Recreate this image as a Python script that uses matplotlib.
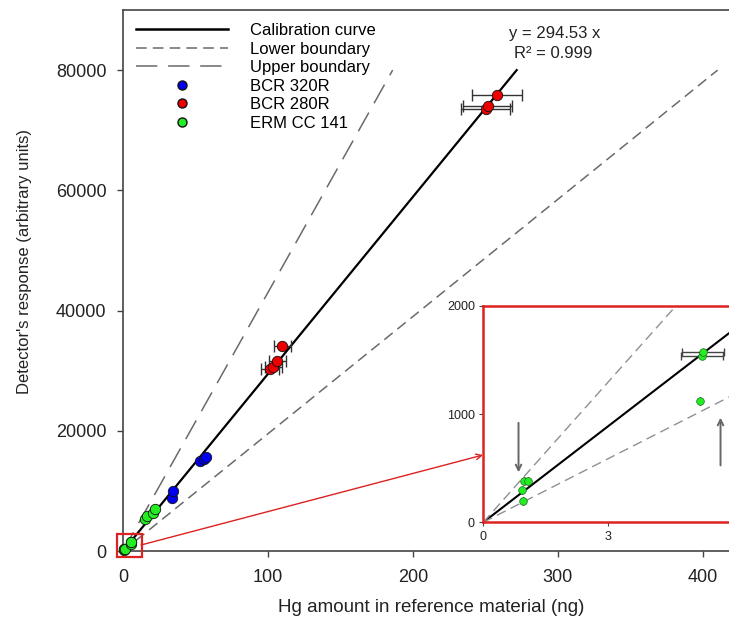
import matplotlib.pyplot as plt
import numpy as np
from matplotlib.lines import Line2D
from matplotlib.patches import Rectangle

plt.rcParams["font.family"] = ["Liberation Sans", "DejaVu Sans"]

# Fitted calibration slope and acceptance boundaries (response per ng)
cal_slope = 294.53
upper_slope = 430.0
lower_slope = 195.0
y_line_max = 80000

# Reference materials: Hg amount (ng), detector response, x uncertainty (ng)
bcr320_x = [34.0, 34.8, 53.2, 55.8, 57.0]
bcr320_y = [8900, 10000, 14900, 15300, 15600]

bcr280_x = [101.4, 103.7, 106.4, 109.9, 250.3, 251.7, 258.0]
bcr280_y = [30200, 30550, 31600, 34100, 73600, 74000, 75800]
bcr280_err = [6, 6, 6, 6, 17, 17, 17]

erm_x = [0.93, 0.96, 0.99, 1.09, 5.23, 5.28, 5.31, 15.5, 16.5, 20.5, 22.0]
erm_y = [299, 200, 385, 385, 1123, 1533, 1571, 5300, 5800, 6400, 7000]
erm_err = [0, 0, 0, 0, 0, 0.5, 0.5, 0, 0, 0, 0]

x_ticks = [0, 100, 200, 300, 400]
y_ticks = [0, 20000, 40000, 60000, 80000]
inset_x_ticks = [0, 3, 6]
inset_y_ticks = [0, 1000, 2000]

fig = plt.figure(figsize=(7.29, 6.21), dpi=100)
ax = fig.add_axes([0.1687, 0.1127, 0.845, 0.8712])

frame = "#444444"
dash_col = "#6a6a6a"

ax.plot([0, y_line_max / cal_slope], [0, y_line_max], color="black", lw=1.6)
ax.plot([0, y_line_max / lower_slope], [0, y_line_max], color=dash_col,
        lw=1.1, dashes=(7, 4))
ax.plot([0, y_line_max / upper_slope], [0, y_line_max], color=dash_col,
        lw=1.1, dashes=(14, 7))

ax.errorbar(bcr280_x, bcr280_y, xerr=bcr280_err, fmt="none", ecolor="#333333",
            elinewidth=1, capsize=4, zorder=3)
ax.plot(bcr320_x, bcr320_y, "o", color="#0000ee", mec="#111111", mew=0.6,
        ms=7.5, clip_on=False, zorder=4)
ax.plot(bcr280_x, bcr280_y, "o", color="#ee0000", mec="#111111", mew=0.6,
        ms=7.5, clip_on=False, zorder=4)
ax.plot(erm_x, erm_y, "o", color="#22ee22", mec="#111111", mew=0.6,
        ms=7.5, clip_on=False, zorder=4)

ax.set_xlim(0, 425)
ax.set_ylim(0, 90000)
ax.set_xticks(x_ticks)
ax.set_yticks(y_ticks)
ax.tick_params(labelsize=13, length=4, width=1, color=frame, colors="#222222")
ax.tick_params(axis="x", pad=9)
ax.tick_params(axis="y", pad=8)
for s in ax.spines.values():
    s.set_color(frame)
    s.set_linewidth(1.2)

ax.set_xlabel("Hg amount in reference material (ng)", fontsize=13.5,
              color="#222222", labelpad=9)
ax.set_ylabel("Detector's response (arbitrary units)", fontsize=12,
              color="#222222")
ax.yaxis.set_label_coords(-0.148, 0.535)

# zoom box around the origin
ax.add_patch(Rectangle((-4.4, -1060), 17.3, 3840, fill=False, ec="#dd2222",
                       lw=1.6, clip_on=False, zorder=5))

ax.text(298, 86150, "y = 294.53 x", fontsize=12, ha="center", va="center",
        color="#222222")
ax.text(297, 82800, "R² = 0.999", fontsize=12, ha="center", va="center",
        color="#222222")

handles = [
    Line2D([], [], color="black", lw=1.8),
    Line2D([], [], color=dash_col, lw=1.1, dashes=(7, 4)),
    Line2D([], [], color=dash_col, lw=1.1, dashes=(14, 7)),
    Line2D([], [], ls="none", marker="o", color="#0000ee", mec="#111111", ms=6.5),
    Line2D([], [], ls="none", marker="o", color="#ee0000", mec="#111111", ms=6.5),
    Line2D([], [], ls="none", marker="o", color="#22ee22", mec="#111111", ms=6.5),
]
labels = ["Calibration curve", "Lower boundary", "Upper boundary",
          "BCR 320R", "BCR 280R", "ERM CC 141"]
ax.legend(handles, labels, loc="upper left", bbox_to_anchor=(0.0, 1.0),
          frameon=False, fontsize=12, handlelength=5.5, handletextpad=1.3,
          labelspacing=0.21, borderaxespad=0.35, borderpad=0.45)

# inset: low-amount region
ins = fig.add_axes([0.663, 0.159, 0.3407, 0.3483])
ins.plot([0, y_line_max / cal_slope], [0, y_line_max], color="black", lw=1.5)
ins.plot([0, y_line_max / lower_slope], [0, y_line_max], color="#909090",
         lw=1.0, dashes=(7, 4))
ins.plot([0, y_line_max / upper_slope], [0, y_line_max], color="#909090",
         lw=1.0, dashes=(7, 4))
ins.errorbar(erm_x, erm_y, xerr=erm_err, fmt="none", ecolor="#444444",
             elinewidth=1, capsize=3, zorder=3)
ins.plot(erm_x, erm_y, "o", color="#22ee22", mec="#226622", mew=0.5, ms=5.5,
         zorder=4)
ins.annotate("", xy=(0.85, 436), xytext=(0.85, 945),
             arrowprops=dict(arrowstyle="->", color="#666666", lw=1.4))
ins.annotate("", xy=(5.73, 993), xytext=(5.73, 500),
             arrowprops=dict(arrowstyle="->", color="#666666", lw=1.4))
ins.set_xlim(0, 6)
ins.set_ylim(0, 2000)
ins.set_xticks(inset_x_ticks)
ins.set_yticks(inset_y_ticks)
ins.tick_params(labelsize=9, length=3, color=frame, colors="#222222", pad=3)
for s in ins.spines.values():
    s.set_color("#dd2222")
    s.set_linewidth(1.8)

# connector from the zoom box to the inset
ax.annotate("", xy=(483 / 729, 1 - 455 / 621), xycoords="figure fraction",
            xytext=(141 / 729, 1 - 545 / 621), textcoords="figure fraction",
            arrowprops=dict(arrowstyle="->", color="#dd2222", lw=1.0,
                            shrinkA=0, shrinkB=0))

fig.savefig("out.png", dpi=100)
